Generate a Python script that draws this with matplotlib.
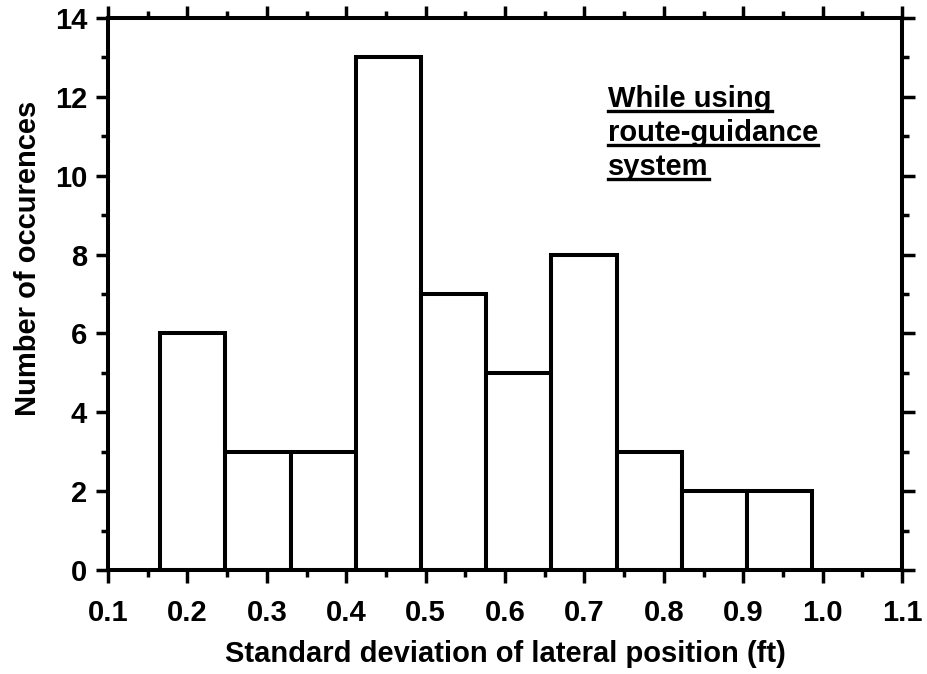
import matplotlib.pyplot as plt
from matplotlib.ticker import MultipleLocator, FormatStrFormatter
import numpy as np

# histogram of lateral-position standard deviation
bin_edges = [0.165, 0.247, 0.330, 0.412, 0.494, 0.576, 0.658, 0.741, 0.823, 0.905, 0.987]
counts = [6, 3, 3, 13, 7, 5, 8, 3, 2, 2]
note_lines = ["While using", "route-guidance", "system"]

plt.rcParams['font.family'] = ['Liberation Sans', 'DejaVu Sans']
plt.rcParams['font.weight'] = 'bold'

fig = plt.figure(figsize=(9.28, 6.74), dpi=100)
ax = fig.add_axes([108/928, 1-570/674, (902-108)/928, (570-18)/674])

edges = np.array(bin_edges)
ax.bar(edges[:-1], counts, width=np.diff(edges), align='edge',
       facecolor='white', edgecolor='black', linewidth=2.9)

ax.set_xlim(0.1, 1.1)
ax.set_ylim(0, 14)
ax.xaxis.set_major_locator(MultipleLocator(0.1))
ax.xaxis.set_minor_locator(MultipleLocator(0.05))
ax.xaxis.set_major_formatter(FormatStrFormatter('%.1f'))
ax.yaxis.set_major_locator(MultipleLocator(2))
ax.yaxis.set_minor_locator(MultipleLocator(1))

for s in ax.spines.values():
    s.set_linewidth(2.9)
ax.tick_params(which='both', direction='out', top=True, right=True, width=2.5)
ax.tick_params(which='major', length=9, labelsize=21)
ax.tick_params(which='minor', length=5)
ax.tick_params(axis='x', which='major', pad=12)
ax.tick_params(axis='y', which='major', pad=6)

ax.set_xlabel("Standard deviation of lateral position (ft)", fontsize=21,
              fontweight='bold', labelpad=9)
ax.set_ylabel("Number of occurences", fontsize=21, fontweight='bold')
ax.yaxis.set_label_coords(-0.083, 0.565)

# underlined note, one line at a time
texts = []
for i, line in enumerate(note_lines):
    t = ax.text(0.63, 0.838 - i * 0.0616, line, transform=ax.transAxes,
                fontsize=21, fontweight='bold', ha='left', va='baseline')
    texts.append(t)

fig.canvas.draw()
r = fig.canvas.get_renderer()
inv = ax.transAxes.inverted()
for t in texts:
    bb = t.get_window_extent(renderer=r)
    base = t.get_transform().transform(t.get_position())[1]
    x0, yb = inv.transform((bb.x0, base - 4))
    x1, _ = inv.transform((bb.x1, base - 4))
    ax.plot([x0, x1], [yb, yb], transform=ax.transAxes, color='black', lw=2.4,
            clip_on=False)

fig.savefig("out.png", dpi=100)
